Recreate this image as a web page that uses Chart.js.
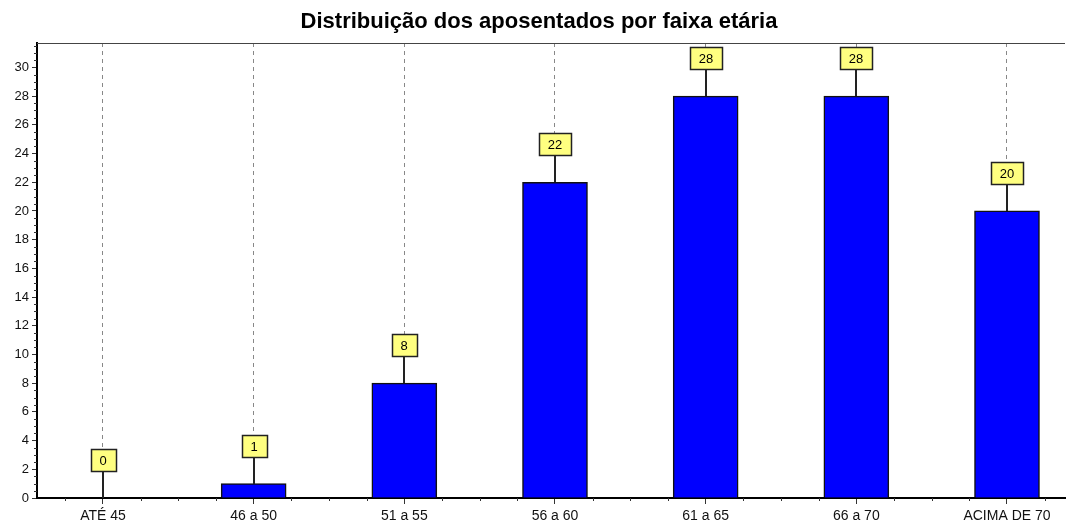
<!DOCTYPE html>
<html>
<head>
<meta charset="utf-8">
<script src="https://cdn.jsdelivr.net/npm/chart.js@4/dist/chart.umd.min.js"></script>
<style>
  html, body { margin: 0; padding: 0; background: #fff; }
  canvas { display: block; }
</style>
</head>
<body>
<canvas id="grafico" width="1067" height="528"></canvas>
<script>
const titulo = "Distribuição dos aposentados por faixa etária";
const faixas = ["ATÉ 45", "46 a 50", "51 a 55", "56 a 60", "61 a 65", "66 a 70", "ACIMA DE 70"];
const aposentados = [0, 1, 8, 22, 28, 28, 20];
const ticksY = [0, 2, 4, 6, 8, 10, 12, 14, 16, 18, 20, 22, 24, 26, 28, 30];

const fonte = "'Liberation Sans', Arial, sans-serif";

// título, etiquetas amarelas e marcas menores dos eixos
const etiquetas = {
  id: "etiquetas",
  afterDatasetsDraw(chart) {
    const ctx = chart.ctx;
    const meta = chart.getDatasetMeta(0);
    const area = chart.chartArea;
    const x = chart.scales.x;
    const y = chart.scales.y;
    ctx.save();
    ctx.setLineDash([]);

    ctx.fillStyle = "#000";
    ctx.font = "bold 22px " + fonte;
    ctx.textAlign = "center";
    ctx.textBaseline = "alphabetic";
    ctx.fillText(titulo, 539, 28);

    // linha superior
    ctx.strokeStyle = "#444";
    ctx.lineWidth = 1;
    ctx.beginPath();
    ctx.moveTo(area.left, area.top + 0.5);
    ctx.lineTo(area.right, area.top + 0.5);
    ctx.stroke();

    // marcas menores eixo x
    ctx.strokeStyle = "#333";
    for (let v = -0.25; v < 6.4; v += 0.25) {
      if (Math.abs(v - Math.round(v)) < 0.01) continue;
      const px = Math.round(x.getPixelForValue(v)) + 0.5;
      if (px < area.left + 2 || px > area.right) continue;
      ctx.beginPath();
      ctx.moveTo(px, area.bottom);
      ctx.lineTo(px, area.bottom + 3);
      ctx.stroke();
    }
    // marcas menores eixo y
    for (let v = 0.5; v < 31.7; v += 0.5) {
      if (v % 2 === 0) continue;
      const py = Math.round(y.getPixelForValue(v)) + 0.5;
      ctx.beginPath();
      ctx.moveTo(area.left - 3, py);
      ctx.lineTo(area.left, py);
      ctx.stroke();
    }

    ctx.font = "13px " + fonte;
    ctx.textAlign = "center";
    ctx.textBaseline = "middle";
    meta.data.forEach((bar, i) => {
      const cx = Math.round(bar.x);
      const topo = Math.round(bar.y);
      const texto = String(aposentados[i]);
      const w = Math.round(ctx.measureText(texto).width) + 18;
      const h = 22;
      const baseCaixa = topo - 27;
      ctx.strokeStyle = "#222";
      ctx.lineWidth = 2;
      ctx.beginPath();
      ctx.moveTo(cx, topo);
      ctx.lineTo(cx, baseCaixa);
      ctx.stroke();
      const bx = Math.round(cx - w / 2) + 0.5;
      const by = baseCaixa - h + 0.5;
      ctx.fillStyle = "#ffff80";
      ctx.fillRect(bx, by, w, h);
      ctx.lineWidth = 1.5;
      ctx.strokeRect(bx, by, w, h);
      ctx.fillStyle = "#000";
      ctx.fillText(texto, cx, by + h / 2 + 1);
    });
    ctx.restore();
  }
};

new Chart(document.getElementById("grafico"), {
  type: "bar",
  data: {
    datasets: [{
      data: aposentados.map((v, i) => ({ x: i, y: v })),
      backgroundColor: "#0000ff",
      borderColor: "#111",
      borderWidth: 1.5,
      borderSkipped: "bottom",
      barThickness: 65
    }]
  },
  options: {
    responsive: false,
    animation: false,
    devicePixelRatio: 1,
    layout: { padding: { left: 0, right: 2, top: 43, bottom: 0 } },
    plugins: {
      legend: { display: false },
      tooltip: { enabled: false },
      title: { display: false }
    },
    scales: {
      x: {
        type: "linear",
        min: -0.438,
        max: 6.385,
        offset: false,
        afterBuildTicks: s => { s.ticks = faixas.map((_, i) => ({ value: i })); },
        afterFit: s => { s.height = 30; },
        ticks: {
          callback: v => faixas[v],
          color: "#111",
          font: { family: fonte, size: 14 },
          padding: 4,
          maxRotation: 0,
          autoSkip: false
        },
        grid: {
          offset: false,
          color: "#888",
          tickColor: "#333",
          tickLength: 6,
          drawOnChartArea: true
        },
        border: { color: "#000", width: 2, dash: [4, 4], dashOffset: 0 }
      },
      y: {
        min: 0,
        max: 31.7,
        afterBuildTicks: s => { s.ticks = ticksY.map(v => ({ value: v })); },
        afterFit: s => { s.width = 37; },
        ticks: {
          color: "#111",
          font: { family: fonte, size: 13 },
          padding: 3
        },
        grid: {
          drawOnChartArea: false,
          tickColor: "#333",
          tickLength: 5
        },
        border: { color: "#000", width: 2 }
      }
    }
  },
  plugins: [etiquetas]
});
</script>
</body>
</html>
